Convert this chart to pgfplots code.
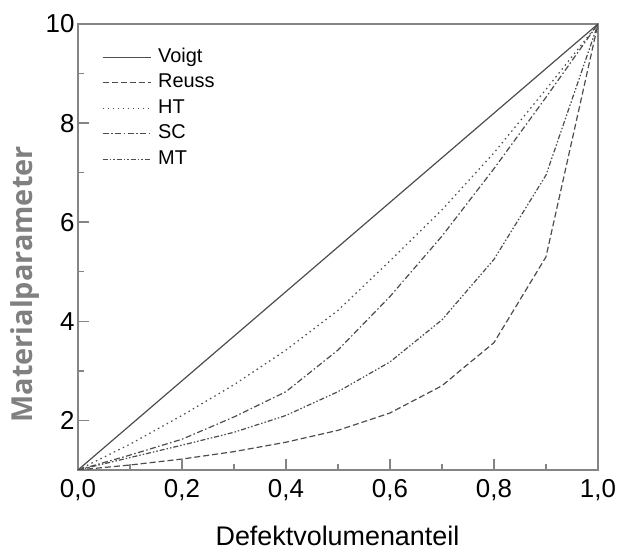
\documentclass[border=0pt]{standalone}
\usepackage{pgfplots}
\pgfplotsset{compat=1.18}
\usepackage{fontspec}
\setmainfont{Liberation Sans}
\newfontfamily\labelfont{Open Sans}
\definecolor{axgray}{HTML}{858585}
\definecolor{curve}{HTML}{4D4D4D}
\definecolor{ylab}{HTML}{808080}
\begin{document}
\begin{tikzpicture}
\begin{axis}[
  scale only axis, width=520bp, height=446bp,
  xmin=0, xmax=1, ymin=1, ymax=10,
  xtick={0,0.2,0.4,0.6,0.8,1}, ytick={2,4,6,8,10},
  minor xtick={0.1,0.3,0.5,0.7,0.9}, minor ytick={3,5,7,9},
  tick pos=left, tick align=inside,
  major tick length=11bp, minor tick length=6bp,
  axis line style={axgray, line width=1.8bp},
  tick style={axgray, line width=1.5bp},
  /pgf/number format/assume math mode=true,
  xticklabel style={/pgf/number format/fixed, /pgf/number format/fixed zerofill, /pgf/number format/precision=1, /pgf/number format/use comma, yshift=-6bp},
  tick label style={font=\fontsize{26}{28}\selectfont, black},
  xlabel={Defektvolumenanteil},
  xlabel style={font=\fontsize{27}{30}\selectfont, at={(axis description cs:0.499,-0.147)}, anchor=center},
  ylabel={Materialparameter},
  ylabel style={font=\labelfont\bfseries\fontsize{29}{32}\selectfont, text=ylab, at={(axis description cs:-0.101,0.416)}, anchor=center},
  legend cell align=left,
  legend image code/.code={\draw[#1] (0bp,0bp) -- (48bp,0bp);},
  legend style={draw=none, fill=none, at={(axis description cs:0.04,0.955)}, anchor=north west,
    font=\fontsize{20}{22}\selectfont, column sep=5bp, row sep=3.5bp,
    nodes={inner sep=2bp, text height=14bp, text depth=4bp}},
  every axis plot/.append style={curve, line width=1.2bp},
]
\addplot[solid] coordinates {(0,1) (1,10)};
\addlegendentry{Voigt}
\addplot[dash pattern=on 6bp off 3bp] coordinates {
(0,1) (0.1,1.10) (0.2,1.22) (0.3,1.37) (0.4,1.56) (0.5,1.80) (0.6,2.15) (0.7,2.70) (0.8,3.57) (0.9,5.30) (1,10)};
\addlegendentry{Reuss}
\addplot[dash pattern=on 1.5bp off 3.5bp] coordinates {
(0,1) (0.1,1.52) (0.2,2.10) (0.3,2.72) (0.4,3.42) (0.5,4.22) (0.6,5.22) (0.7,6.25) (0.8,7.40) (0.9,8.68) (1,10)};
\addlegendentry{HT}
\addplot[dash pattern=on 6bp off 2.5bp on 1.5bp off 2.5bp] coordinates {
(0,1) (0.1,1.30) (0.2,1.62) (0.3,2.07) (0.4,2.58) (0.5,3.42) (0.6,4.50) (0.7,5.72) (0.8,7.08) (0.9,8.52) (1,10)};
\addlegendentry{SC}
\addplot[dash pattern=on 5bp off 2bp on 1.5bp off 2bp on 1.5bp off 2bp] coordinates {
(0,1) (0.1,1.25) (0.2,1.50) (0.3,1.76) (0.4,2.10) (0.5,2.58) (0.6,3.18) (0.7,4.03) (0.8,5.25) (0.9,6.95) (1,10)};
\addlegendentry{MT}
\pgfplotsinvokeforeach{0.2,0.4,0.6,0.8}{\draw[axgray, line width=1.5bp] (axis cs:#1,1) -- ([yshift=11bp]axis cs:#1,1);}
\pgfplotsinvokeforeach{0.1,0.3,0.5,0.7,0.9}{\draw[axgray, line width=1.5bp] (axis cs:#1,1) -- ([yshift=6bp]axis cs:#1,1);}
\pgfplotsinvokeforeach{2,4,6,8}{\draw[axgray, line width=1.5bp] (axis cs:0,#1) -- ([xshift=11bp]axis cs:0,#1);}
\pgfplotsinvokeforeach{3,5,7,9}{\draw[axgray, line width=1.5bp] (axis cs:0,#1) -- ([xshift=6bp]axis cs:0,#1);}
\coordinate (bl) at (axis cs:-0.15,-0.634);
\coordinate (tr) at (axis cs:1.0385,10.484);
\end{axis}
\pgfresetboundingbox
\useasboundingbox (bl) rectangle (tr);
\end{tikzpicture}
\end{document}
